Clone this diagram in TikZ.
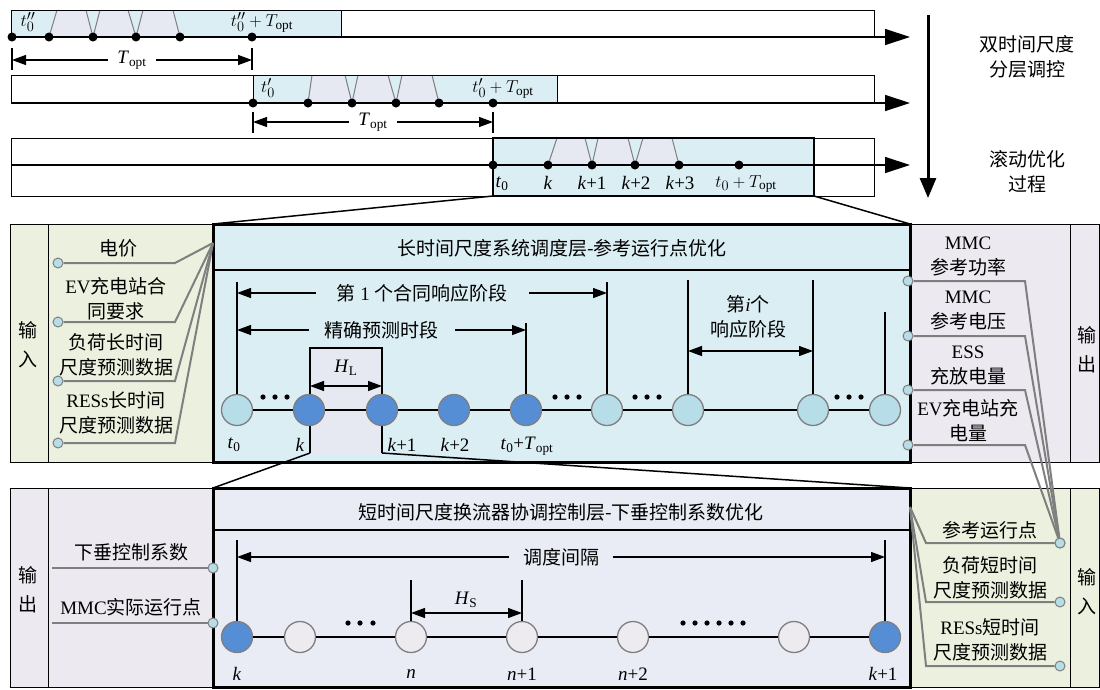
\documentclass[tikz,border=0pt]{standalone}
\usepackage{fontspec}
\setmainfont{Liberation Serif}
\newfontfamily\cjk{Noto Sans CJK SC}
\usetikzlibrary{arrows.meta}
\definecolor{tblue}{HTML}{DBEEF4}
\definecolor{trap}{HTML}{E6E8F2}
\definecolor{lgreen}{HTML}{EBF1DE}
\definecolor{lpurp}{HTML}{ECE9F1}
\definecolor{bbox}{HTML}{E9ECF4}
\definecolor{cdark}{HTML}{558ED5}
\definecolor{clight}{HTML}{B7DDE8}
\definecolor{cgray}{HTML}{EDEAF0}
\definecolor{wire}{HTML}{7F7F7F}
\newcommand{\zh}[1]{{\cjk #1}}
\newcommand{\vi}[1]{\textit{#1}}
\newcommand{\Topt}{\textit{T}\textsubscript{opt}}
\newcommand{\tz}{\textit{t}\textsubscript{0}}
\begin{document}
\begin{tikzpicture}[x=1pt,y=-1pt,
  every node/.style={font=\fontsize{19}{25}\selectfont, inner sep=0pt},
  tdot/.style={circle,fill=black,inner sep=0pt,minimum size=9pt},
  bignode/.style={circle,draw=wire,line width=1.3pt,minimum size=31pt,inner sep=0pt},
  dk/.style={bignode,fill=cdark},
  lt/.style={bignode,fill=clight},
  gy/.style={bignode,fill=cgray},
  port/.style={circle,draw=wire,line width=1pt,fill=clight,minimum size=10pt,inner sep=0pt},
  wireline/.style={draw=wire,line width=2pt},
  dimline/.style={line width=1.2pt,{Triangle[length=14pt,width=10pt]}-{Triangle[length=14pt,width=10pt]}},
  tl/.style={line width=1.2pt},
  bigarrow/.style={line width=1.3pt,-{Triangle[length=25pt,width=16pt]}},
  trapz/.style={fill=trap},
  trapside/.style={draw=wire,line width=1pt},
  pd/.style={fill=black},
]
\useasboundingbox (0,0) rectangle (1100,689);

%================ ROW 1 =================
\fill[tblue] (11,10) rectangle (341,37);
\foreach \a/\b/\c/\d in {49/57/86/93, 93/100/128/136, 136/143/173/180}{
  \fill[trapz] (\a,37) -- (\b,10) -- (\c,10) -- (\d,37) -- cycle;
  \draw[trapside] (\a,37) -- (\b,10) (\c,10) -- (\d,37);
}
\draw[line width=1pt] (11,37) -- (11,10) -- (874,10) -- (874,37);
\draw[line width=1pt] (341,10) -- (341,37);
\coordinate (r1s) at (11,37);
\coordinate (r1e) at (910,37);
\draw[bigarrow] (r1s) -- (r1e);
\foreach \n/\x in {0/12,1/49,2/93,3/136,4/180,5/252}
  \node[tdot] (r1d\n) at (\x,37) {};
\node (r1l0) at (28,22) {$t''_0$};
\node (r1l1) at (262,22) {$t''_0+T_{\mathrm{opt}}$};
\coordinate (r1ta) at (12,48); \coordinate (r1tb) at (12,70);
\coordinate (r1tc) at (252,48); \coordinate (r1td) at (252,70);
\draw[tl] (r1ta) -- (r1tb); \draw[tl] (r1tc) -- (r1td);
\coordinate (r1da) at (12,60); \coordinate (r1db) at (252,60);
\draw[dimline] (r1da) -- node[fill=white,inner xsep=9pt,inner ysep=2pt] (r1T) {\Topt} (r1db);

%================ ROW 2 =================
\fill[tblue] (253,75) rectangle (557,103);
\foreach \a/\b/\c/\d in {308/312/345/352, 352/358/388/396, 396/402/432/439}{
  \fill[trapz] (\a,103) -- (\b,75) -- (\c,75) -- (\d,103) -- cycle;
  \draw[trapside] (\a,103) -- (\b,75) (\c,75) -- (\d,103);
}
\draw[line width=1pt] (11,103) -- (11,75) -- (874,75) -- (874,103);
\draw[line width=1pt] (253,75) -- (253,103) (557,75) -- (557,103);
\coordinate (r2s) at (11,103);
\coordinate (r2e) at (910,103);
\draw[bigarrow] (r2s) -- (r2e);
\foreach \n/\x in {0/253,1/308,2/352,3/396,4/439,5/493}
  \node[tdot] (r2d\n) at (\x,103) {};
\node (r2l0) at (268,88) {$t'_0$};
\node (r2l1) at (503,88) {$t'_0+T_{\mathrm{opt}}$};
\coordinate (r2ta) at (253,112); \coordinate (r2tb) at (253,133);
\coordinate (r2tc) at (493,112); \coordinate (r2td) at (493,133);
\draw[tl] (r2ta) -- (r2tb); \draw[tl] (r2tc) -- (r2td);
\coordinate (r2da) at (253,122); \coordinate (r2db) at (493,122);
\draw[dimline] (r2da) -- node[fill=white,inner xsep=9pt,inner ysep=2pt] (r2T) {\Topt} (r2db);

%================ ROW 3 =================
\draw[line width=1pt] (11,138) rectangle (874,196);
\fill[tblue] (493,138) rectangle (814,196);
\foreach \a/\b/\c/\d in {548/557/585/592, 592/598/628/635, 635/643/672/679}{
  \fill[trapz] (\a,165) -- (\b,138) -- (\c,138) -- (\d,165) -- cycle;
  \draw[trapside] (\a,165) -- (\b,138) (\c,138) -- (\d,165);
}
\draw[line width=2.5pt] (493,138) rectangle (814,196);
\coordinate (r3s) at (11,165);
\coordinate (r3e) at (910,165);
\draw[bigarrow] (r3s) -- (r3e);
\foreach \n/\x in {0/493,1/548,2/592,3/635,4/679,5/739}
  \node[tdot] (r3d\n) at (\x,165) {};
\node (r3l0) at (502,184) {\tz};
\node (r3l1) at (548,183) {\vi{k}};
\node (r3l2) at (592,183) {\vi{k}+1};
\node (r3l3) at (636,183) {\vi{k}+2};
\node (r3l4) at (680,183) {\vi{k}+3};
\node (r3l5) at (746,184) {$t_0+T_{\mathrm{opt}}$};

% right side of top
\coordinate (va) at (928,15); \coordinate (vb) at (928,198);
\draw[line width=3pt,-{Triangle[length=20pt,width=16pt]}] (va) -- (vb);
\node[align=center] (tr1) at (1027,57) {\zh{双时间尺度}\\\zh{分层调控}};
\node[align=center] (tr2) at (1027,172) {\zh{滚动优化}\\\zh{过程}};

%================ MIDDLE SECTION =================
\fill[lgreen] (10,224) rectangle (213,462);
\fill[lpurp] (910,224) rectangle (1100,462);
\fill[tblue] (213,224) rectangle (910,462);
\draw[line width=1pt] (10,224) rectangle (1099,462);
\draw[line width=1pt] (48,224) -- (48,462) (1070,224) -- (1070,462);
% H_L box
\fill[trap] (310,348) rectangle (382,453);
\draw[line width=2pt] (310,453) -- (310,348) -- (382,348) -- (382,453);
\draw[line width=3pt] (213,224) rectangle (910,462);
\draw[line width=2.5pt] (213,270) -- (910,270);
\node (mtitle) at (562,248) {\zh{长时间尺度系统调度层-参考运行点优化}};
\node[align=center] (min) at (28,345) {\zh{输}\\[4pt]\zh{入}};
\node[align=center] (mout) at (1087,350) {\zh{输}\\[4pt]\zh{出}};

% zoom lines from row 3
\coordinate (z1a) at (493,196); \coordinate (z1b) at (213,224);
\coordinate (z1c) at (814,196); \coordinate (z1d) at (910,224);
\draw[line width=1.5pt] (z1a) -- (z1b) (z1c) -- (z1d);

% circles
\foreach \n/\x/\s in {0/237/lt,1/309/dk,2/382/dk,3/454/dk,4/526/dk,5/607/lt,6/688/lt,7/813/lt,8/885/lt}
  \node[\s] (m\n) at (\x,410) {};
\foreach \a/\b in {0/1,1/2,2/3,3/4,4/5,5/6,6/7,7/8}
  \draw[tl] (m\a) -- (m\b);
\foreach \x in {263,275,287,555,567,579,635,647,659,837,849,861}
  \fill[pd] (\x,397) circle (2.6pt);
% vertical lines
\coordinate (v0) at (237,282); \coordinate (v5) at (607,282);
\coordinate (v4) at (526,323); \coordinate (v6) at (688,280);
\coordinate (v7) at (813,280); \coordinate (v8) at (885,312);
\draw[tl] (m0) -- (v0) (m5) -- (v5) (m4) -- (v4) (m6) -- (v6) (m7) -- (v7) (m8) -- (v8);
% dimensions
\coordinate (d1a) at (237,293); \coordinate (d1b) at (607,293);
\draw[dimline] (d1a) -- node[fill=tblue,inner xsep=21pt,inner ysep=2pt] (d1t) {\zh{第} 1 \zh{个合同响应阶段}} (d1b);
\coordinate (d2a) at (237,330); \coordinate (d2b) at (526,330);
\draw[dimline] (d2a) -- node[fill=tblue,inner xsep=16pt,inner ysep=2pt] (d2t) {\zh{精确预测时段}} (d2b);
\coordinate (d3a) at (688,351); \coordinate (d3b) at (813,351);
\draw[dimline] (d3a) -- (d3b);
\node[align=center] (d3t) at (748,317) {\zh{第}\vi{i}\zh{个}\\\zh{响应阶段}};
\coordinate (hla) at (310,386); \coordinate (hlb) at (382,386);
\draw[dimline] (hla) -- (hlb);
\node (hlt) at (346,368) {\vi{H}\textsubscript{L}};
% labels under circles
\node (ml0) at (234,445) {\tz};
\node (ml1) at (300,445) {\vi{k}};
\node (ml2) at (402,445) {\vi{k}+1};
\node (ml3) at (455,445) {\vi{k}+2};
\node (ml4) at (527,446) {\tz+\Topt};

% left inputs
\coordinate (hubL) at (213,243);
\foreach \n/\y in {1/263,2/322,3/381,4/443}{
  \node[port] (pin\n) at (58,\y) {};
  \draw[wireline] (pin\n) -- (175,\y) -- (hubL);
}
\node[align=center] (tin1) at (118,248) {\zh{电价}};
\node[align=center] (tin2) at (116,299) {EV\zh{充电站合}\\\zh{同要求}};
\node[align=center] (tin3) at (116,355) {\zh{负荷长时间}\\\zh{尺度预测数据}};
\node[align=center] (tin4) at (116,413) {RESs\zh{长时间}\\\zh{尺度预测数据}};

%================ BOTTOM SECTION =================
\fill[lpurp] (10,488) rectangle (213,687);
\fill[lgreen] (910,488) rectangle (1100,687);
\fill[bbox] (213,488) rectangle (910,687);
\draw[line width=1pt] (10,488) rectangle (1099,687);
\draw[line width=1pt] (48,488) -- (48,687) (1070,488) -- (1070,687);
\draw[line width=3pt] (213,488) rectangle (910,687);
\draw[line width=2.5pt] (213,530) -- (910,530);
\node (btitle) at (561,512) {\zh{短时间尺度换流器协调控制层-下垂控制系数优化}};
\node[align=center] (bout) at (28,590) {\zh{输}\\[4pt]\zh{出}};
\node[align=center] (bin) at (1087,592) {\zh{输}\\[4pt]\zh{入}};

% zoom lines from H_L box
\coordinate (z2a) at (310,453); \coordinate (z2b) at (213,488);
\coordinate (z2c) at (382,453); \coordinate (z2d) at (910,488);
\draw[line width=1.5pt] (z2a) -- (z2b) (z2c) -- (z2d);

% circles
\foreach \n/\x/\s in {0/237/dk,1/300/gy,2/411/gy,3/522/gy,4/633/gy,5/794/gy,6/885/dk}
  \node[\s] (b\n) at (\x,637) {};
\foreach \a/\b in {0/1,1/2,2/3,3/4,4/5,5/6}
  \draw[tl] (b\a) -- (b\b);
\foreach \x in {348,360,373,683,695,707,719,731,743}
  \fill[pd] (\x,623) circle (2.6pt);
\coordinate (bv0) at (237,540); \coordinate (bv6) at (885,540);
\coordinate (bv2) at (411,580); \coordinate (bv3) at (522,580);
\draw[tl] (b0) -- (bv0) (b6) -- (bv6) (b2) -- (bv2) (b3) -- (bv3);
\coordinate (d4a) at (237,557); \coordinate (d4b) at (885,557);
\draw[dimline] (d4a) -- node[fill=bbox,inner xsep=14pt,inner ysep=2pt] (d4t) {\zh{调度间隔}} (d4b);
\coordinate (hsa) at (411,613); \coordinate (hsb) at (522,613);
\draw[dimline] (hsa) -- (hsb);
\node (hst) at (466,600) {\vi{H}\textsubscript{S}};
\node (bl0) at (237,674) {\vi{k}};
\node (bl2) at (411,674) {\vi{n}};
\node (bl3) at (522,674) {\vi{n}+1};
\node (bl4) at (633,674) {\vi{n}+2};
\node (bl6) at (883,674) {\vi{k}+1};

% bottom-left outputs
\foreach \n/\y in {1/568,2/623}{
  \node[port] (pout\n) at (213,\y) {};
  \coordinate (poe\n) at (52,\y);
  \draw[wireline] (poe\n) -- (pout\n);
}
\node (tout1) at (131,552) {\zh{下垂控制系数}};
\node (tout2) at (131,607) {MMC\zh{实际运行点}};

% bottom-right inputs
\coordinate (hubB) at (910,507);
\foreach \n/\y in {1/543,2/602,3/666}{
  \node[port] (qin\n) at (1060,\y) {};
  \draw[wireline] (qin\n) -- (926,\y) -- (hubB);
}
\node (tq1) at (990,530) {\zh{参考运行点}};
\node[align=center] (tq2) at (990,578) {\zh{负荷短时间}\\\zh{尺度预测数据}};
\node[align=center] (tq3) at (990,640) {RESs\zh{短时间}\\\zh{尺度预测数据}};

% middle-right outputs to reference point
\foreach \n/\y in {1/281,2/336,3/390,4/445}{
  \node[port] (pm\n) at (908,\y) {};
  \draw[wireline] (pm\n) -- (1025,\y) -- (qin1);
}
\node[port] at (qin1) {};
\node[align=center] (to1) at (968,256) {MMC\\\zh{参考功率}};
\node[align=center] (to2) at (968,310) {MMC\\\zh{参考电压}};
\node[align=center] (to3) at (968,365) {ESS\\\zh{充放电量}};
\node[align=center] (to4) at (968,421) {EV\zh{充电站充}\\\zh{电量}};
\end{tikzpicture}
\end{document}
